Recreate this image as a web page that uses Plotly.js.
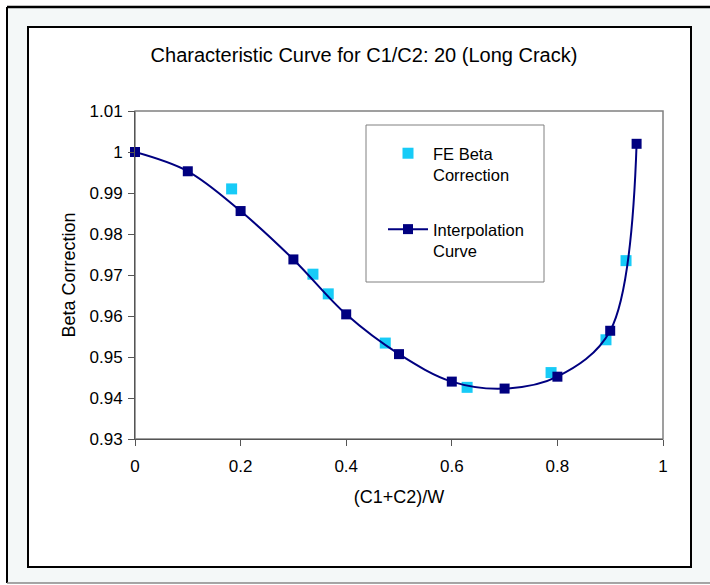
<!DOCTYPE html>
<html>
<head>
<meta charset="utf-8">
<script src="https://cdn.plot.ly/plotly-3.0.1.min.js"></script>
<style>html,body{margin:0;padding:0;background:#fff;}#chart{width:710px;height:585px;}</style>
</head>
<body>
<div id="chart"></div>
<script>
// FE Beta Correction (light blue squares)
const feX = [0.183, 0.337, 0.366, 0.474, 0.629, 0.788, 0.892, 0.930];
const feY = [0.9910, 0.9702, 0.9654, 0.9534, 0.9426, 0.9462, 0.9542, 0.9735];
// Interpolation Curve (navy squares + smooth line)
const curveX = [0, 0.1, 0.2, 0.3, 0.4, 0.5, 0.6, 0.7, 0.8, 0.9, 0.95];
const curveY = [1.0000, 0.9953, 0.9856, 0.9738, 0.9604, 0.9507, 0.9440, 0.9423, 0.9452, 0.9564, 1.0020];
const xTicks = [0, 0.2, 0.4, 0.6, 0.8, 1];
const yTicks = [0.93, 0.94, 0.95, 0.96, 0.97, 0.98, 0.99, 1, 1.01];
const yTickText = ['0.93', '0.94', '0.95', '0.96', '0.97', '0.98', '0.99', '1', '1.01'];

const W = 710, H = 585;
const L = 135, R = 663, T = 111, B = 439;
const px = v => (v - L) / (R - L);
const py = v => (B - v) / (B - T);

const FONT = 'Liberation Sans, Arial, sans-serif';

const traces = [
  {
    x: feX, y: feY, type: 'scatter', mode: 'markers',
    name: 'FE Beta<br>Correction',
    legendgroup: 'a',
    marker: {symbol: 'square', size: 11, color: '#17CBF7'},
    cliponaxis: false
  },
  {
    x: curveX, y: curveY, type: 'scatter', mode: 'lines+markers',
    name: 'Interpolation<br>Curve',
    legendgroup: 'b',
    line: {shape: 'spline', smoothing: 1, color: '#000080', width: 2},
    marker: {symbol: 'square', size: 10, color: '#000080'},
    cliponaxis: false
  }
];

const layout = {
  width: W, height: H,
  margin: {l: L, r: W - R, t: T, b: H - B, pad: 0},
  paper_bgcolor: '#ffffff',
  plot_bgcolor: '#C0C0C0',
  font: {family: FONT, color: '#000', size: 17},
  title: {
    text: 'Characteristic Curve for C1/C2: 20 (Long Crack)',
    font: {family: FONT, size: 20, color: '#000'},
    x: 364 / W, xref: 'container', xanchor: 'center',
    y: 1 - 55 / H, yref: 'container', yanchor: 'middle'
  },
  xaxis: {
    range: [0, 1], tickvals: xTicks, ticktext: xTicks.map(String),
    showgrid: false, zeroline: false,
    showline: true, linecolor: '#555', linewidth: 1,
    ticks: 'outside', ticklen: 6, tickcolor: '#555',
    tickfont: {size: 17}, ticklabelstandoff: 6,
    title: {text: '(C1+C2)/W', font: {size: 18}, standoff: 14}
  },
  yaxis: {
    range: [0.93, 1.01], tickvals: yTicks, ticktext: yTickText,
    showgrid: false, zeroline: false,
    showline: true, linecolor: '#555', linewidth: 1,
    ticks: 'outside', ticklen: 6, tickcolor: '#555',
    tickfont: {size: 17}, ticklabelstandoff: 2,
    title: {text: 'Beta Correction', font: {size: 18}, standoff: 9}
  },
  showlegend: true,
  legend: {
    x: px(383), y: py(136), xanchor: 'left', yanchor: 'top',
    bgcolor: 'rgba(0,0,0,0)', borderwidth: 0,
    font: {size: 16.5, family: FONT},
    traceorder: 'grouped', tracegroupgap: 30,
    valign: 'top', itemwidth: 40
  },
  shapes: [
    // outer frame
    {type: 'rect', xref: 'paper', yref: 'paper', layer: 'below',
     x0: px(7), x1: px(730), y0: py(583), y1: py(7),
     fillcolor: '#F4F8F8', line: {width: 0}},
    {type: 'line', xref: 'paper', yref: 'paper', layer: 'below',
     x0: px(7), x1: px(730), y0: py(7), y1: py(7), line: {color: '#000', width: 2.5}},
    {type: 'line', xref: 'paper', yref: 'paper', layer: 'below',
     x0: px(7), x1: px(7), y0: py(583), y1: py(7), line: {color: '#000', width: 2}},
    {type: 'line', xref: 'paper', yref: 'paper', layer: 'below',
     x0: px(7), x1: px(730), y0: py(583), y1: py(583), line: {color: '#888', width: 1.5}},
    // inner chart frame
    {type: 'rect', xref: 'paper', yref: 'paper', layer: 'below',
     x0: px(28), x1: px(691), y0: py(567), y1: py(27),
     fillcolor: '#ffffff', line: {color: '#000', width: 2}},
    // plot area border (top/right grey)
    {type: 'rect', xref: 'paper', yref: 'paper', layer: 'below',
     x0: 0, x1: 1, y0: 0, y1: 1,
     fillcolor: 'rgba(0,0,0,0)', line: {color: '#808080', width: 1.5}},
    // legend box
    {type: 'rect', xref: 'paper', yref: 'paper', layer: 'below',
     x0: px(366), x1: px(544), y0: py(282), y1: py(125),
     fillcolor: '#ffffff', line: {color: '#808080', width: 1}}
  ]
};

Plotly.newPlot('chart', traces, layout, {displayModeBar: false, staticPlot: true});
</script>
</body>
</html>
